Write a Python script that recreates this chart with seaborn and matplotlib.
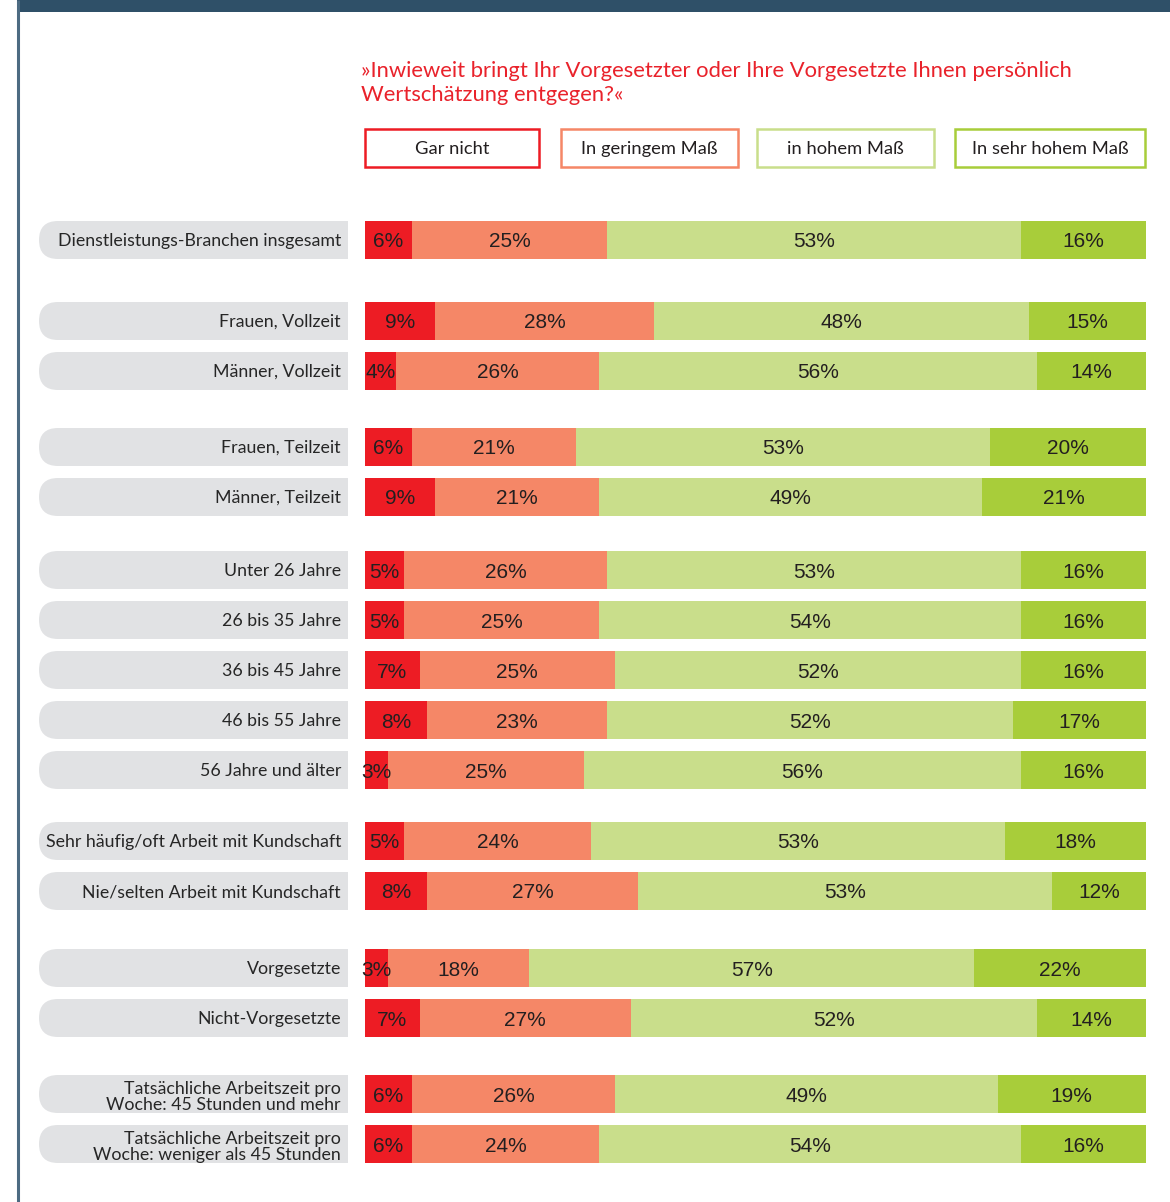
import numpy as np
import pandas as pd
import matplotlib
matplotlib.use("Agg")
import matplotlib.pyplot as plt
import seaborn as sns
from matplotlib.patches import FancyBboxPatch, Rectangle

# ---------------- data ----------------
categories = [
    "Dienstleistungs-Branchen insgesamt",
    "Frauen, Vollzeit",
    "Männer, Vollzeit",
    "Frauen, Teilzeit",
    "Männer, Teilzeit",
    "Unter 26 Jahre",
    "26 bis 35 Jahre",
    "36 bis 45 Jahre",
    "46 bis 55 Jahre",
    "56 Jahre und älter",
    "Sehr häufig/oft Arbeit mit Kundschaft",
    "Nie/selten Arbeit mit Kundschaft",
    "Vorgesetzte",
    "Nicht-Vorgesetzte",
    "Tatsächliche Arbeitszeit pro\nWoche: 45 Stunden und mehr",
    "Tatsächliche Arbeitszeit pro\nWoche: weniger als 45 Stunden",
]
gar_nicht = [6, 9, 4, 6, 9, 5, 5, 7, 8, 3, 5, 8, 3, 7, 6, 6]
geringem = [25, 28, 26, 21, 21, 26, 25, 25, 23, 25, 24, 27, 18, 27, 26, 24]
hohem = [53, 48, 56, 53, 49, 53, 54, 52, 52, 56, 53, 53, 57, 52, 49, 54]
sehr_hohem = [16, 15, 14, 20, 21, 16, 16, 16, 17, 16, 18, 12, 22, 14, 19, 16]
group_sizes = [1, 2, 2, 5, 2, 2, 2]
legend_labels = ["Gar nicht", "In geringem Maß", "in hohem Maß", "In sehr hohem Maß"]
title_lines = ["»Inwieweit bringt Ihr Vorgesetzter oder Ihre Vorgesetzte Ihnen persönlich",
               "Wertschätzung entgegen?«"]

# ---------------- style ----------------
colors = ["#ed1c24", "#f58767", "#c9de8b", "#a8cd3a"]
pill_color = "#e1e2e4"
text_dark = "#231f20"
title_red = "#e9222b"

sns.set_theme(style="white")
plt.rcParams["font.family"] = ["Lato", "DejaVu Sans"]

PX_W, PX_H = 1170, 1202
BAR_X0, BAR_X1 = 365, 1146
ROW0_PX, UNIT_PX = 240, 50.0
group_gaps = [1.62, 1.52, 1.46, 1.42, 1.54, 1.52]

# row positions (layout)
positions = []
p = 0.0
for gi, n in enumerate(group_sizes):
    for k in range(n):
        positions.append(round(p, 4))
        p += 1.0
    if gi < len(group_gaps):
        p += group_gaps[gi] - 1.0

df = pd.DataFrame({
    "cat": categories,
    "pos": positions,
    "gar": gar_nicht,
    "ger": geringem,
    "hoh": hohem,
    "seh": sehr_hohem,
})
df["c1"] = df["gar"]
df["c2"] = df["c1"] + df["ger"]
df["c3"] = df["c2"] + df["hoh"]
df["c4"] = df["c3"] + df["seh"]

fig = plt.figure(figsize=(PX_W / 100, PX_H / 100), dpi=100)
fig.patch.set_facecolor("white")

# overlay axes in pixel coordinates
ov = fig.add_axes([0, 0, 1, 1], zorder=0)
ov.set_xlim(0, PX_W)
ov.set_ylim(PX_H, 0)
ov.axis("off")

# bar axes
ax = fig.add_axes([BAR_X0 / PX_W, 0, (BAR_X1 - BAR_X0) / PX_W, 1], zorder=1)
ax.patch.set_alpha(0)

for col, c in zip(["c4", "c3", "c2", "c1"], colors[::-1]):
    sns.barplot(data=df, x=col, y="pos", orient="h", native_scale=True,
                width=0.76, color=c, saturation=1, errorbar=None,
                linewidth=0, ax=ax)

ylim_top = -ROW0_PX / UNIT_PX
ylim_bot = (PX_H - ROW0_PX) / UNIT_PX
ax.set_xlim(0, 100)
ax.set_ylim(ylim_bot, ylim_top)
ax.axis("off")

# percentage labels
for _, r in df.iterrows():
    starts = [0, r["c1"], r["c2"], r["c3"]]
    vals = [r["gar"], r["ger"], r["hoh"], r["seh"]]
    for s, v in zip(starts, vals):
        ax.text(s + v / 2, r["pos"], f"{v}%", ha="center", va="center_baseline",
                fontsize=15, color=text_dark, family="Liberation Sans")

# frame decorations
ov.add_patch(Rectangle((17, 0), PX_W - 17, 11.5, facecolor="#2f5068", edgecolor="none"))
ov.plot([17.5, 17.5], [0, PX_H], color="#4d6b82", lw=2.2, solid_capstyle="butt")

# pills with category labels
for _, r in df.iterrows():
    yc = ROW0_PX + r["pos"] * UNIT_PX
    h = 38
    ov.add_patch(FancyBboxPatch((39, yc - h / 2), 309, h,
                                boxstyle="round,pad=0,rounding_size=19",
                                facecolor=pill_color, edgecolor="none"))
    ov.add_patch(Rectangle((200, yc - h / 2), 148, h, facecolor=pill_color, edgecolor="none"))
    multi = "\n" in r["cat"]
    ov.text(341, yc + (3 if multi else 1), r["cat"], ha="right", va="center",
            fontsize=12.8, color="#262626", linespacing=1.02)

# title
ov.text(361, 77, title_lines[0], ha="left", va="baseline", fontsize=15.8, color=title_red)
ov.text(361, 101, title_lines[1], ha="left", va="baseline", fontsize=15.8, color=title_red)

# legend boxes
leg_boxes = [(365, 539), (561, 738), (757, 934), (955, 1145)]
for (x0, x1), lab, c in zip(leg_boxes, legend_labels, colors):
    ov.add_patch(Rectangle((x0, 129), x1 - x0, 38, facecolor="white", edgecolor=c, lw=1.8))
    ov.text((x0 + x1) / 2, 149, lab, ha="center", va="center", fontsize=13.2, color=text_dark)

fig.savefig("out.png", dpi=100, facecolor="white")
